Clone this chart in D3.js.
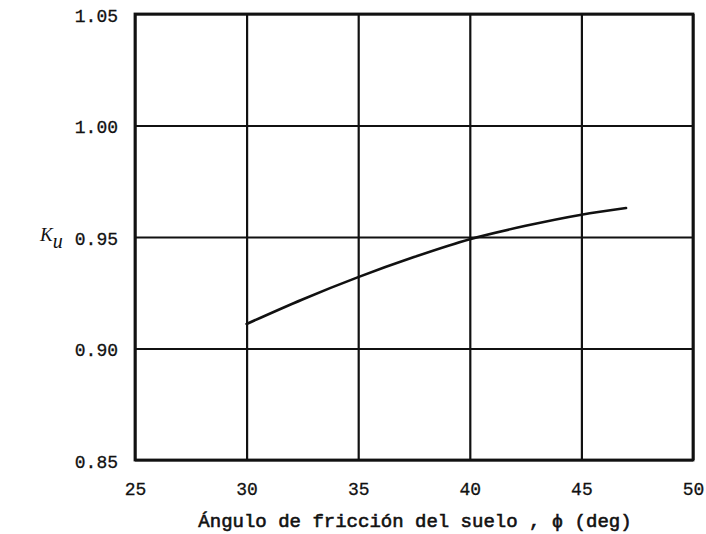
<!DOCTYPE html>
<html>
<head>
<meta charset="utf-8">
<script src="https://cdn.jsdelivr.net/npm/d3@7"></script>
<style>
  html, body { margin: 0; padding: 0; background: #fff; }
  svg { display: block; }
  .tick text { font-family: "Liberation Mono", "DejaVu Sans Mono", monospace; font-size: 18px; fill: #111; stroke: #111; stroke-width: 0.3px; }
</style>
</head>
<body>
<svg id="chart" width="706" height="534"></svg>
<script>
// Friction angle of the soil (deg) and the coefficient K_u
const phiValues = [30, 32.5, 35, 37.5, 40, 42.5, 45, 47];
const kuValues  = [0.911, 0.922, 0.932, 0.941, 0.949, 0.955, 0.960, 0.963];

const xTicks = [25, 30, 35, 40, 45, 50];
const yTicks = [0.85, 0.90, 0.95, 1.00, 1.05];

const xTitle = "Ángulo de fricción del suelo , ϕ (deg)";

const svg = d3.select("#chart");
const margin = { left: 135, right: 13, top: 14, bottom: 74 };
const W = 706, H = 534;
const innerW = W - margin.left - margin.right;
const innerH = H - margin.top - margin.bottom;

const x = d3.scaleLinear().domain([25, 50]).range([0, innerW]);
const y = d3.scaleLinear().domain([0.85, 1.05]).range([innerH, 0]);

const g = svg.append("g").attr("transform", `translate(${margin.left},${margin.top})`);

// vertical grid lines + bottom tick labels
const xAxis = g.append("g")
  .attr("transform", `translate(0,${innerH})`)
  .call(d3.axisBottom(x).tickValues(xTicks).tickSize(-innerH).tickPadding(22).tickFormat(d3.format("d")));
xAxis.select(".domain").remove();
xAxis.selectAll(".tick line").attr("stroke", "#111").attr("stroke-width", 2.2);

// horizontal grid lines + left tick labels
const yAxis = g.append("g")
  .call(d3.axisLeft(y).tickValues(yTicks).tickSize(-innerW).tickPadding(17).tickFormat(d3.format(".2f")));
yAxis.select(".domain").remove();
yAxis.selectAll(".tick line").attr("stroke", "#111").attr("stroke-width", 2.2);
yAxis.selectAll(".tick text").attr("dy", "0.4em");

// plot frame
g.append("rect")
  .attr("x", 0).attr("y", 0)
  .attr("width", innerW).attr("height", innerH)
  .attr("fill", "none").attr("stroke", "#111").attr("stroke-width", 2.8);

// K_u curve
const line = d3.line()
  .x((d, i) => x(phiValues[i]))
  .y(d => y(d))
  .curve(d3.curveMonotoneX);

g.append("path")
  .datum(kuValues)
  .attr("d", line)
  .attr("fill", "none")
  .attr("stroke", "#111")
  .attr("stroke-width", 2.6)
  .attr("stroke-linecap", "round");

// axis titles
svg.append("text")
  .attr("x", 415).attr("y", 527)
  .attr("text-anchor", "middle")
  .attr("font-family", "Liberation Mono, DejaVu Sans Mono, monospace")
  .attr("font-size", 19)
  .attr("fill", "#111")
  .attr("stroke", "#111")
  .attr("stroke-width", 0.6)
  .text(xTitle);

const ku = svg.append("text")
  .attr("x", 40).attr("y", 241)
  .attr("font-family", "Liberation Serif, DejaVu Serif, serif")
  .attr("font-style", "italic")
  .attr("font-size", 19)
  .attr("fill", "#111");
ku.append("tspan").text("K");
ku.append("tspan").attr("dy", 7).attr("font-size", 20).text("u");
</script>
</body>
</html>
